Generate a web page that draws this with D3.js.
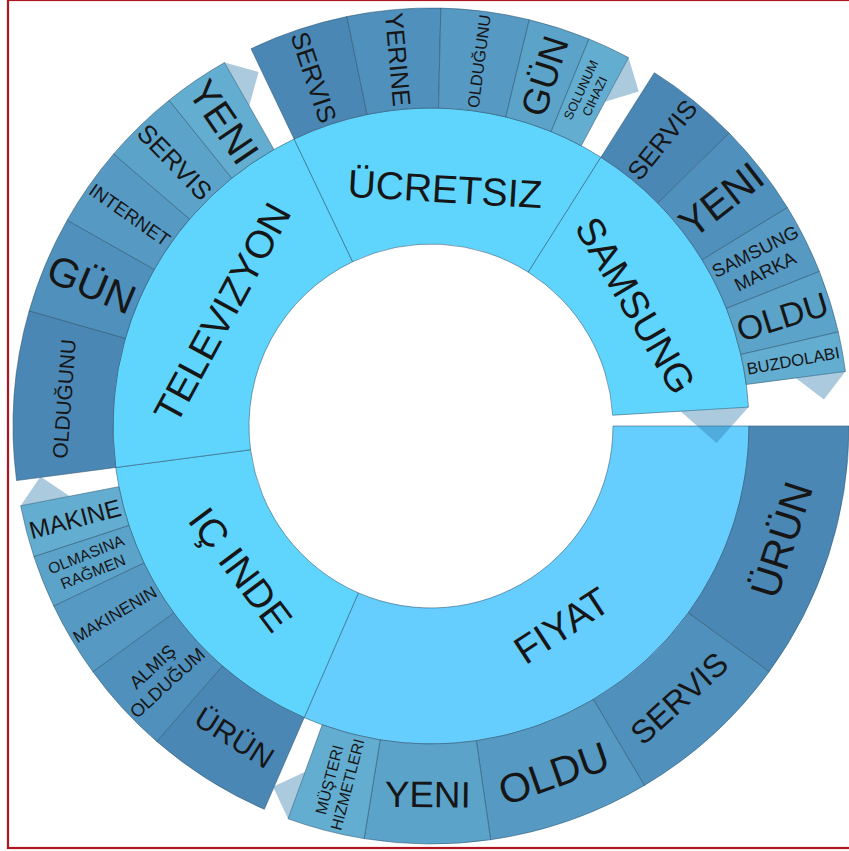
<!DOCTYPE html>
<html><head><meta charset="utf-8">
<script src="https://cdn.jsdelivr.net/npm/d3@7"></script>
<style>html,body{margin:0;padding:0;background:#fff;overflow:hidden}</style>
</head><body>
<svg id="chart" width="849" height="851"></svg>
<script>
// ---------- data ----------
const groupNames = ["FIYAT", "IÇ INDE", "TELEVIZYON", "ÜCRETSIZ", "SAMSUNG"];
const rootRest = 3.4;                       // part of the whole not shown by any group
const groupRest = [3.5, 3.5, 4.1, 4.1, 4.1]; // part of each group not shown by its words

const fiyatWords = ["ÜRÜN", "SERVIS", "OLDU", "YENI", "MÜŞTERI\nHIZMETLERI"];
const fiyatValues = [36.0, 23.3, 22.5, 17.4, 10.8];
const icindeWords = ["ÜRÜN", "ALMIŞ\nOLDUĞUM", "MAKINENIN", "OLMASINA\nRAĞMEN", "MAKINE"];
const icindeValues = [17.5, 13.0, 10.5, 7.3, 7.2];
const televizyonWords = ["OLDUĞUNU", "GÜN", "INTERNET", "SERVIS", "YENI"];
const televizyonValues = [23.5, 13.5, 11.1, 10.6, 9.2];
const ucretsizWords = ["SERVIS", "YERINE", "OLDUĞUNU", "GÜN", "SOLUNUM\nCIHAZI"];
const ucretsizValues = [13.9, 12.95, 12.25, 8.6, 6.0];
const samsungWords = ["SERVIS", "YENI", "SAMSUNG\nMARKA", "OLDU", "BUZDOLABI"];
const samsungValues = [13.2, 13.0, 9.8, 8.7, 5.5];

const wordLists = [fiyatWords, icindeWords, televizyonWords, ucretsizWords, samsungWords];
const valueLists = [fiyatValues, icindeValues, televizyonValues, ucretsizValues, samsungValues];

// ---------- styles ----------
const cx = 431, cy = 426;
const START = Math.PI / 2;
const FONT = "'Liberation Sans', Arial, sans-serif";
const innerFill = ["#66cdff", "#5fd4fd", "#5fd4fd", "#5fd4fd", "#5fd4fd"];
const outerFill = ["#4a87b5", "#4f90bc", "#5699c3", "#5ca3ca", "#63add1"];

const tree = {
  name: "root", own: rootRest,
  children: groupNames.map((g, i) => ({
    name: g, own: groupRest[i], gi: i,
    children: wordLists[i].map((w, j) => ({ name: w, own: valueLists[i][j], gi: i, ci: j }))
  }))
};

const root = d3.hierarchy(tree).sum(d => d.own);
d3.partition().size([2 * Math.PI, 3])(root);

const rScale = d3.scaleLinear().domain([1, 2, 3]).range([182, 318, 418]);

const svg = d3.select("#chart");
svg.append("rect").attr("x", 8).attr("y", 0).attr("width", 850).attr("height", 848)
  .attr("fill", "none").attr("stroke", "#b0141f").attr("stroke-width", 2.2);

const g = svg.append("g").attr("transform", `translate(${cx},${cy})`);

const arc = d3.arc()
  .startAngle(d => d.x0 + START)
  .endAngle(d => d.x1 + START)
  .innerRadius(d => rScale(d.y0))
  .outerRadius(d => rScale(d.y1));

const nodes = root.descendants().filter(d => d.depth > 0);

g.selectAll("path.seg").data(nodes).join("path")
  .attr("class", "seg")
  .attr("d", arc)
  .attr("fill", d => d.depth === 1 ? innerFill[d.data.gi] : outerFill[d.data.ci])
  .attr("stroke", "#2d5670").attr("stroke-opacity", 0.55).attr("stroke-width", 1);

// triangles at the end of the last child of every parent that has a remainder
const pos = (r, a) => [r * Math.sin(a), -r * Math.cos(a)];
const parents = root.descendants().filter(d => d.children && d.data.own > 0);
const tris = parents.map(p => {
  const last = p.children[p.children.length - 1];
  const a = last.x1 + START;
  const rIn = rScale(last.y0), rOut = rScale(last.y1);
  const rMid = (rIn + rOut) / 2;
  const h = (rOut - rMid) / 2;
  const rc = (rMid + rOut) / 2;
  const b1 = pos(rMid, a), b2 = pos(rOut, a), c = pos(rc, a);
  const apex = [c[0] + h * Math.cos(a), c[1] + h * Math.sin(a)];
  return [b1, b2, apex];
});
g.selectAll("path.tri").data(tris).join("path")
  .attr("class", "tri")
  .attr("d", d => "M" + d.map(p => p.join(",")).join("L") + "Z")
  .attr("fill", "rgba(46,122,171,0.4)");

// label fitting
const meas = svg.append("text").attr("font-family", FONT).attr("font-size", 100).attr("opacity", 0);
function widthEm(s) { meas.text(s); return meas.node().getComputedTextLength() / 100; }

const labels = nodes.map(d => {
  const lines = d.data.name.split("\n");
  const wEm = d3.max(lines, widthEm);
  const span = d.x1 - d.x0;
  const rIn = rScale(d.y0), rOut = rScale(d.y1);
  const thick = rOut - rIn;
  const rLab = d.depth === 1 ? 238 : (rIn + rOut) / 2;
  const parallel = ((rIn + rOut) / 2) * span > thick;
  const cap = d.depth === 1 ? 39 : 41;
  const lh = 1.3;
  let fs;
  if (parallel) {
    const chordR = d.depth === 1 ? rLab : rIn;
    const availLen = 2 * chordR * Math.sin(span / 2) - 10;
    fs = Math.min(cap, availLen / wEm, (thick - 8) / (lines.length * lh));
  } else {
    fs = Math.min(cap, (thick - 6) / wEm, rIn * span / (lines.length * lh));
  }
  const a = (d.x0 + d.x1) / 2 + START;
  let deg = (a * 180 / Math.PI) % 360;
  let rot;
  if (parallel) rot = (deg > 90 && deg < 270) ? deg - 180 : deg;
  else rot = deg < 180 ? deg - 90 : deg - 270;
  const p = pos(rLab, a);
  return { lines, fs, rot, x: p[0], y: p[1], lh };
});
meas.remove();

const lab = g.selectAll("text.lab").data(labels).join("text")
  .attr("class", "lab")
  .attr("transform", d => `translate(${d.x},${d.y}) rotate(${d.rot})`)
  .attr("text-anchor", "middle")
  .attr("font-family", FONT)
  .attr("font-size", d => d.fs.toFixed(1))
  .attr("fill", "#161616");
lab.each(function(d) {
  const n = d.lines.length;
  d3.select(this).selectAll("tspan").data(d.lines).join("tspan")
    .attr("x", 0)
    .attr("y", (t, i) => ((i - (n - 1) / 2) * d.lh * 0.92 + 0.36) * d.fs)
    .text(t => t);
});
</script>
</body></html>
